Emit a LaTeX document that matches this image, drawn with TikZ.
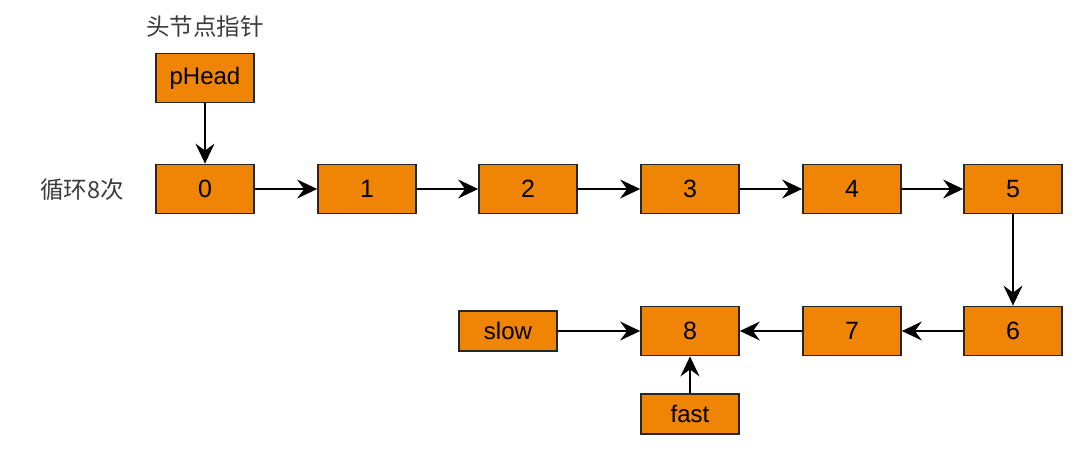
\documentclass[tikz,border=0pt]{standalone}
\usepackage{fontspec}
\setmainfont{Liberation Sans}
\newfontfamily\cjk{Noto Sans CJK SC}
\usetikzlibrary{arrows.meta}
\definecolor{nodeorange}{RGB}{240,132,4}
\definecolor{labelgray}{RGB}{60,60,60}
\tikzset{
  listbox/.style={draw=black!85, line width=1.8pt, fill=nodeorange, minimum width=98pt, minimum height=49pt, inner sep=0pt, font=\fontsize{25}{25}\selectfont},
  ptrbox/.style={listbox, minimum height=40pt, font=\fontsize{24}{24}\selectfont},
  link/.style={line width=1.6pt, -{Stealth[length=20pt, width=19pt, inset=7pt]}},
  cnlabel/.style={text=labelgray, inner sep=0pt, font=\cjk\fontsize{23.5}{24}\selectfont}
}
\begin{document}
\begin{tikzpicture}[x=1pt, y=-1pt]
\useasboundingbox (0,0) rectangle (1077,453);
\node[cnlabel] (title) at (205,27) {头节点指针};
\node[listbox, font=\fontsize{24}{24}\selectfont] (ph) at (205,78) {pHead};
\node[cnlabel] (loop) at (82,190) {循环8次};
\node[listbox] (n0) at (205,189) {0};
\node[listbox] (n1) at (367,189) {1};
\node[listbox] (n2) at (528,189) {2};
\node[listbox] (n3) at (690,189) {3};
\node[listbox] (n4) at (852,189) {4};
\node[listbox] (n5) at (1013,189) {5};
\node[listbox] (n6) at (1013,331) {6};
\node[listbox] (n7) at (852,331) {7};
\node[listbox] (n8) at (690,331) {8};
\node[ptrbox] (slow) at (508,331) {slow};
\node[ptrbox] (fast) at (690,414) {fast};
\draw[link] (ph) -- (n0);
\draw[link] (n0) -- (n1);
\draw[link] (n1) -- (n2);
\draw[link] (n2) -- (n3);
\draw[link] (n3) -- (n4);
\draw[link] (n4) -- (n5);
\draw[link] (n5) -- (n6);
\draw[link] (n6) -- (n7);
\draw[link] (n7) -- (n8);
\draw[link] (slow) -- (n8);
\draw[link] (fast) -- (n8);
\end{tikzpicture}
\end{document}
